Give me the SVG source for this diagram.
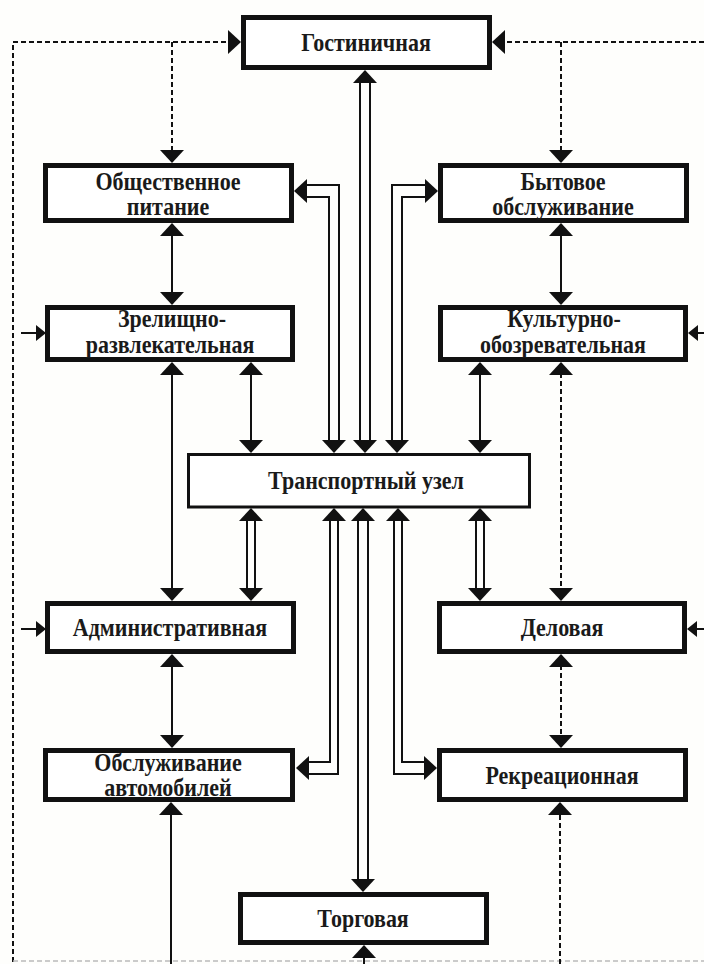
<svg xmlns="http://www.w3.org/2000/svg" xmlns:xlink="http://www.w3.org/1999/xlink" width="704" height="964" viewBox="0 0 704 964">
<style>
.box{fill:#fff;stroke:#111;stroke-width:5}
.tbox{fill:#fff;stroke:#111;stroke-width:3}
.t{font-family:"Liberation Serif","Times New Roman",serif;font-weight:bold;font-size:25px;fill:#1a1a1a;text-anchor:middle}
.s{fill:none;stroke:#111;stroke-width:2}
.d{fill:none;stroke:#111;stroke-width:2;stroke-dasharray:5 3}
.f{fill:none;stroke:#bbb;stroke-width:1.5;stroke-dasharray:5 3}
.h{fill:#111}
</style>
<defs>
<path id="ah" d="M0,0 L-12,-13 L12,-13 Z"/>
<path id="as" d="M0,0 L-8,-10 L8,-10 Z"/>
</defs>
<rect x="0" y="0" width="704" height="964" fill="#fefefc"/>
<g id="connectors">
<path class="d" d="M13,962 V42 H229"/>
<path class="d" d="M172,42 V151"/>
<path class="d" d="M704,42 H504"/>
<path class="d" d="M561,42 V151"/>
<path class="f" d="M13,961 H704"/>
<use href="#ah" class="h" transform="translate(241,42) rotate(-90)"/>
<use href="#ah" class="h" transform="translate(172,163)"/>
<use href="#ah" class="h" transform="translate(492,42) rotate(90)"/>
<use href="#ah" class="h" transform="translate(561,163)"/>
<path class="s" d="M21,333 H37"/>
<use href="#as" class="h" transform="translate(46,333) rotate(-90)"/>
<path class="s" d="M704,333 H697"/>
<use href="#as" class="h" transform="translate(688,333) rotate(90)"/>
<path class="s" d="M21,629 H37"/>
<use href="#as" class="h" transform="translate(46,629) rotate(-90)"/>
<path class="s" d="M704,629 H697"/>
<use href="#as" class="h" transform="translate(687,629) rotate(90)"/>
<path class="s" d="M172,234 V294"/>
<use href="#ah" class="h" transform="translate(172,223) rotate(180)"/>
<use href="#ah" class="h" transform="translate(172,305)"/>
<path class="s" d="M561,234 V294"/>
<use href="#ah" class="h" transform="translate(561,223) rotate(180)"/>
<use href="#ah" class="h" transform="translate(561,305)"/>
<path class="s" d="M172,373 V590"/>
<use href="#ah" class="h" transform="translate(172,362) rotate(180)"/>
<use href="#ah" class="h" transform="translate(172,601)"/>
<path class="s" d="M251,373 V442"/>
<use href="#ah" class="h" transform="translate(251,362) rotate(180)"/>
<use href="#ah" class="h" transform="translate(251,453)"/>
<path class="s" d="M480,373 V442"/>
<use href="#ah" class="h" transform="translate(480,362) rotate(180)"/>
<use href="#ah" class="h" transform="translate(480,453)"/>
<path class="d" d="M561,373 V590"/>
<use href="#ah" class="h" transform="translate(561,362) rotate(180)"/>
<use href="#ah" class="h" transform="translate(561,601)"/>
<path class="s" d="M172,665 V737"/>
<use href="#ah" class="h" transform="translate(172,654) rotate(180)"/>
<use href="#ah" class="h" transform="translate(172,748)"/>
<path class="d" d="M561,665 V737"/>
<use href="#ah" class="h" transform="translate(561,654) rotate(180)"/>
<use href="#ah" class="h" transform="translate(561,748)"/>
<path class="s" d="M171,964 V813"/>
<use href="#ah" class="h" transform="translate(171,802) rotate(180)"/>
<path class="d" d="M560,964 V813"/>
<use href="#ah" class="h" transform="translate(560,802) rotate(180)"/>
<path class="s" d="M364,964 V956"/>
<use href="#ah" class="h" transform="translate(364,945) rotate(180)"/>
<path class="s" d="M360,81 V442 M370,81 V442"/>
<use href="#ah" class="h" transform="translate(365,70) rotate(180)"/>
<use href="#ah" class="h" transform="translate(365,453)"/>
<path class="s" d="M339,442 V185 H305 M329,442 V197 H305"/>
<use href="#ah" class="h" transform="translate(294,191) rotate(90)"/>
<use href="#ah" class="h" transform="translate(334,453)"/>
<path class="s" d="M392,442 V185 H427 M402,442 V197 H427"/>
<use href="#ah" class="h" transform="translate(438,191) rotate(-90)"/>
<use href="#ah" class="h" transform="translate(397,453)"/>
<path class="s" d="M247,519 V590 M255,519 V590"/>
<use href="#ah" class="h" transform="translate(251,508) rotate(180)"/>
<use href="#ah" class="h" transform="translate(251,601)"/>
<path class="s" d="M476,519 V590 M484,519 V590"/>
<use href="#ah" class="h" transform="translate(480,508) rotate(180)"/>
<use href="#ah" class="h" transform="translate(480,601)"/>
<path class="s" d="M330,519 V762 H307 M338,519 V774 H307"/>
<use href="#ah" class="h" transform="translate(334,508) rotate(180)"/>
<use href="#ah" class="h" transform="translate(296,768) rotate(90)"/>
<path class="s" d="M394,519 V774 H426 M402,519 V762 H426"/>
<use href="#ah" class="h" transform="translate(398,508) rotate(180)"/>
<use href="#ah" class="h" transform="translate(437,768) rotate(-90)"/>
<path class="s" d="M358,519 V881 M368,519 V881"/>
<use href="#ah" class="h" transform="translate(363,508) rotate(180)"/>
<use href="#ah" class="h" transform="translate(363,892)"/>
</g>
<g id="gost"><rect class="box" x="243.5" y="17.5" width="246" height="50"/><text class="t" transform="translate(366,51) scale(0.88,1)">Гостиничная</text></g>
<g id="obsch"><rect class="box" x="45.5" y="165.5" width="246" height="55"/><text class="t" transform="translate(168,190) scale(0.88,1)">Общественное</text><text class="t" transform="translate(168,215) scale(0.88,1)">питание</text></g>
<g id="byt"><rect class="box" x="440.5" y="165.5" width="246" height="55"/><text class="t" transform="translate(563,190) scale(0.88,1)">Бытовое</text><text class="t" transform="translate(563,215) scale(0.88,1)">обслуживание</text></g>
<g id="zrel"><rect class="box" x="47.5" y="307.5" width="245" height="52"/><text class="t" transform="translate(172,327) scale(0.88,1)">Зрелищно-</text><text class="t" transform="translate(170,353) scale(0.88,1)">развлекательная</text></g>
<g id="kult"><rect class="box" x="440.5" y="307.5" width="245" height="52"/><text class="t" transform="translate(564,327) scale(0.88,1)">Культурно-</text><text class="t" transform="translate(563,353) scale(0.88,1)">обозревательная</text></g>
<g id="trans"><rect class="tbox" x="188.5" y="454.5" width="341" height="52.5"/><text class="t" transform="translate(366,489) scale(0.88,1)">Транспортный узел</text></g>
<g id="admin"><rect class="box" x="47.5" y="603.5" width="246" height="48"/><text class="t" transform="translate(170,636) scale(0.88,1)">Административная</text></g>
<g id="delo"><rect class="box" x="439.5" y="603.5" width="245" height="48"/><text class="t" transform="translate(562,636) scale(0.88,1)">Деловая</text></g>
<g id="obsl"><rect class="box" x="45.5" y="750.5" width="247" height="49"/><text class="t" transform="translate(168,771) scale(0.88,1)">Обслуживание</text><text class="t" transform="translate(168,796) scale(0.88,1)">автомобилей</text></g>
<g id="rekr"><rect class="box" x="439.5" y="750.5" width="246" height="49"/><text class="t" transform="translate(562,784) scale(0.88,1)">Рекреационная</text></g>
<g id="torg"><rect class="box" x="240.5" y="894.5" width="246" height="48"/><text class="t" transform="translate(363,927) scale(0.88,1)">Торговая</text></g>
</svg>
